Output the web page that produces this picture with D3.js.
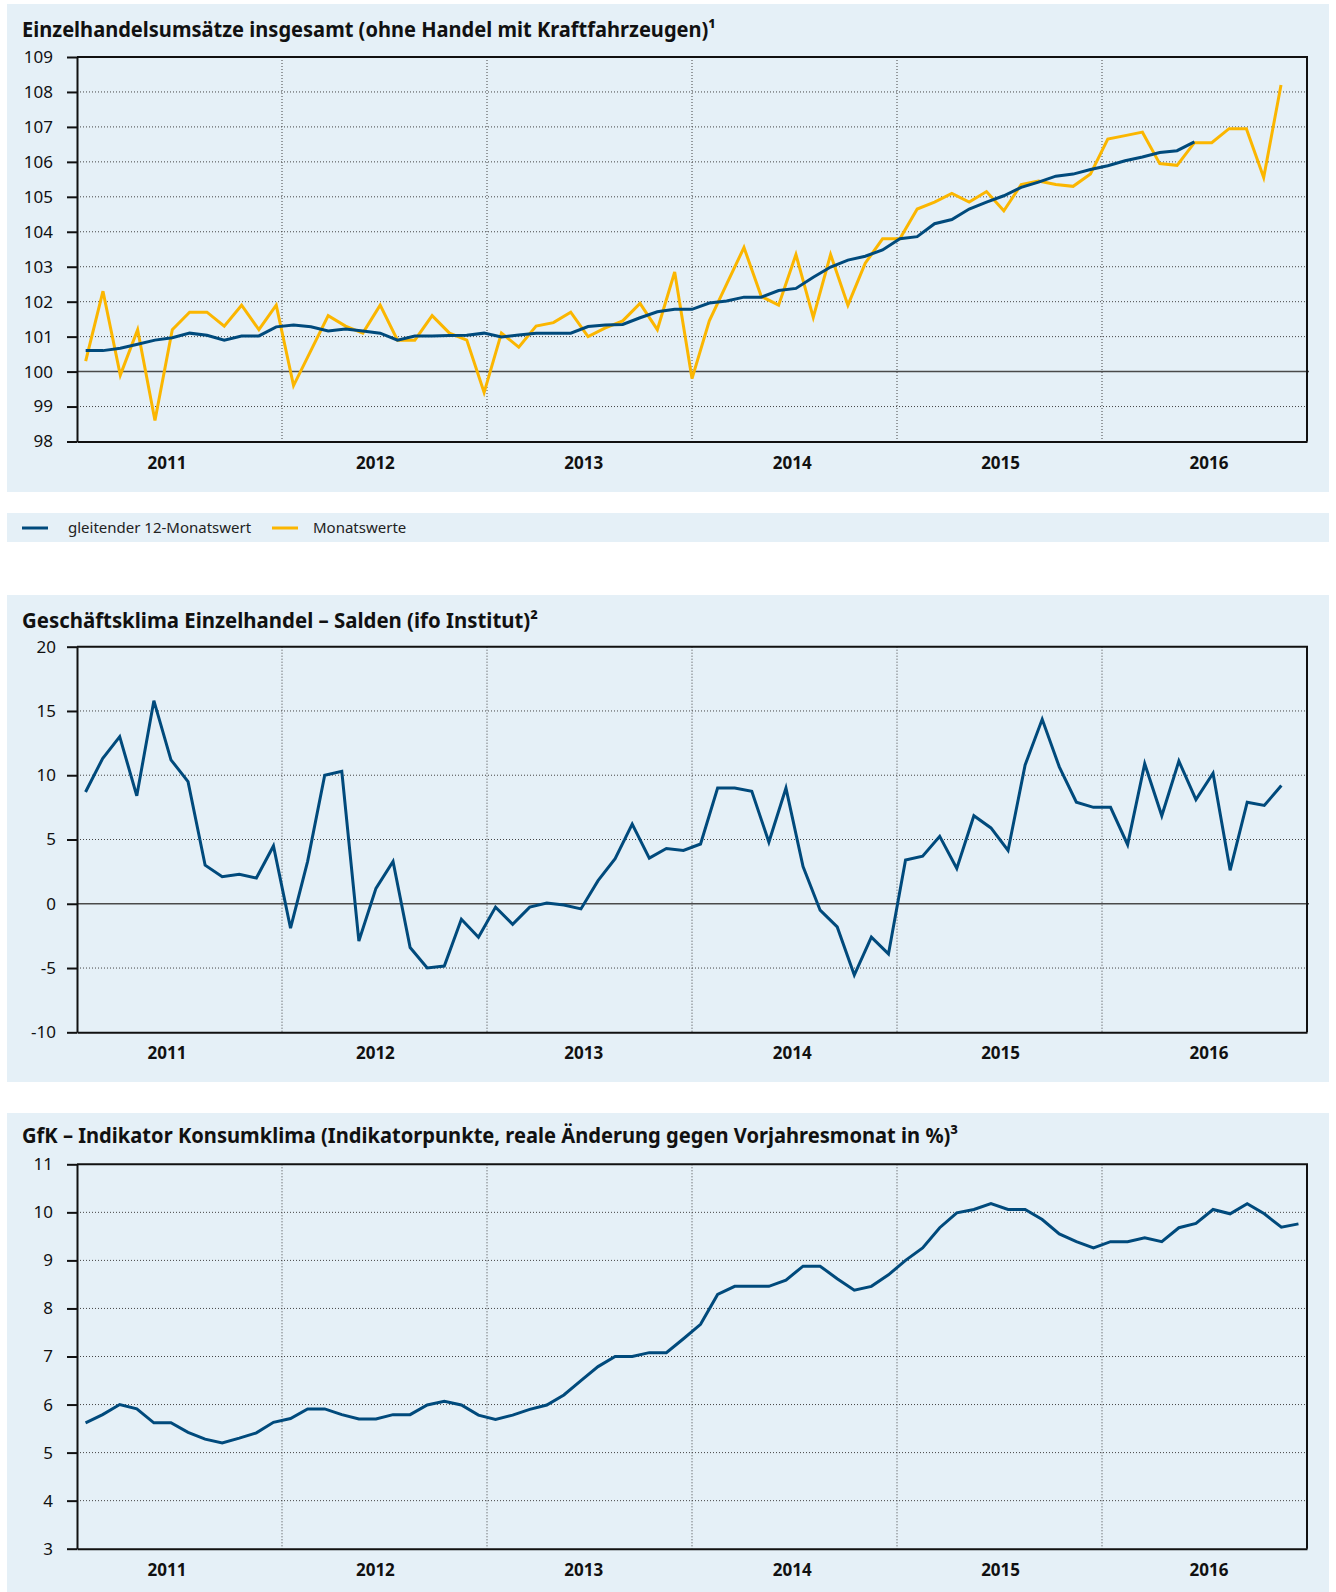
<!DOCTYPE html>
<html>
<head>
<meta charset="utf-8">
<script src="https://cdn.jsdelivr.net/npm/d3@7"></script>
<style>
  body { margin: 0; background: #fff; }
  svg { display: block; font-family: "Noto Sans", sans-serif; }
</style>
</head>
<body>
<div id="chart"></div>
<script>
// month categories Jan 2011 - Dec 2016
const months = d3.range(72).map(i => `${2011 + Math.floor(i / 12)}-${String(i % 12 + 1).padStart(2, "0")}`);
const years = [2011, 2012, 2013, 2014, 2015, 2016];

// Einzelhandelsumsätze (Index), Monatswerte
const retailMonthly = [
  100.3, 102.3, 99.9, 101.2, 98.6, 101.2, 101.7, 101.7, 101.3, 101.9, 101.2, 101.9,
  99.6, 100.6, 101.6, 101.3, 101.1, 101.9, 100.9, 100.9, 101.6, 101.1, 100.9, 99.4,
  101.1, 100.7, 101.3, 101.4, 101.7, 101.0, 101.25, 101.45, 101.95, 101.2, 102.85, 99.8,
  101.45, 102.5, 103.55, 102.15, 101.9, 103.35, 101.55, 103.35, 101.9, 103.1, 103.8, 103.8,
  104.65, 104.85, 105.1, 104.85, 105.15, 104.6, 105.35, 105.45, 105.35, 105.3, 105.65, 106.65,
  106.75, 106.85, 105.95, 105.9, 106.55, 106.55, 106.95, 106.95, 105.55, 108.2
];
// gleitender 12-Monatswert
const retailMovingAvg = [
  100.6, 100.6, 100.67, 100.78, 100.9, 100.97, 101.1, 101.04, 100.9, 101.02, 101.02, 101.28,
  101.33, 101.28, 101.16, 101.22, 101.16, 101.1, 100.9, 101.02, 101.02, 101.03, 101.04, 101.1,
  100.99, 101.05, 101.1, 101.1, 101.1, 101.29, 101.33, 101.35, 101.54, 101.71, 101.78, 101.78,
  101.96, 102.02, 102.13, 102.13, 102.32, 102.38, 102.7, 102.99, 103.19, 103.3, 103.48, 103.8,
  103.86, 104.23, 104.35, 104.65, 104.85, 105.03, 105.27, 105.42, 105.59, 105.65, 105.78, 105.89,
  106.03, 106.14, 106.27, 106.32, 106.57
];
// ifo Geschäftsklima Einzelhandel, Salden
const ifoBalance = [
  8.7, 11.3, 13.0, 8.4, 15.8, 11.2, 9.5, 3.0, 2.1, 2.3, 2.0, 4.5,
  -1.9, 3.3, 10.0, 10.3, -2.9, 1.2, 3.3, -3.4, -5.0, -4.85, -1.2, -2.6,
  -0.26, -1.6, -0.26, 0.05, -0.1, -0.4, 1.8, 3.5, 6.2, 3.55, 4.3, 4.15,
  4.65, 9.0, 9.0, 8.75, 4.8, 9.0, 2.9, -0.5, -1.8, -5.55, -2.6, -3.9,
  3.4, 3.7, 5.25, 2.75, 6.85, 5.9, 4.15, 10.8, 14.35, 10.65, 7.9, 7.5,
  7.5, 4.6, 10.9, 6.85, 11.1, 8.1, 10.15, 2.6, 7.9, 7.65, 9.2
];
// GfK Konsumklima, Indikatorpunkte
const gfkClimate = [
  5.62, 5.79, 6.0, 5.91, 5.62, 5.62, 5.42, 5.28, 5.2, 5.3, 5.41, 5.63,
  5.71, 5.91, 5.91, 5.79, 5.7, 5.7, 5.79, 5.79, 5.99, 6.07, 5.99, 5.78,
  5.69, 5.78, 5.9, 5.99, 6.2, 6.5, 6.79, 7.0, 7.0, 7.08, 7.08, 7.37,
  7.67, 8.29, 8.46, 8.46, 8.46, 8.59, 8.88, 8.88, 8.62, 8.38, 8.46, 8.7,
  9.0, 9.26, 9.68, 9.99, 10.06, 10.18, 10.06, 10.06, 9.85, 9.55, 9.39, 9.26,
  9.39, 9.39, 9.47, 9.39, 9.68, 9.77, 10.06, 9.97, 10.18, 9.97, 9.69, 9.76
];

const W = 1336, H = 1592;
const plotLeft = 77, plotRight = 1307;
const bgColor = "#e5f0f7", blue = "#004a7c", yellow = "#fbb600";

const svg = d3.select("#chart").append("svg")
  .attr("width", W)
  .attr("height", H);

function drawPanel(p) {
  const g = svg.append("g");

  g.append("rect")
    .attr("x", 7).attr("y", p.boxTop)
    .attr("width", 1322).attr("height", p.boxBottom - p.boxTop)
    .attr("fill", bgColor);

  g.append("text")
    .attr("x", 22).attr("y", p.titleY)
    .attr("font-size", 21).attr("font-weight", "bold").attr("fill", "#111")
    .attr("textLength", p.titleWidth).attr("lengthAdjust", "spacingAndGlyphs")
    .text(p.title);

  const y = d3.scaleLinear().domain(p.domain).range([p.bottom, p.top]);
  const x = d3.scalePoint().domain(months.slice(0, p.nCat)).range([plotLeft, plotRight]).padding(0.5);
  // year separators split the plot in six equal parts
  const yr = d3.scaleLinear().domain([2011, 2017]).range([plotLeft, plotRight]);
  // year labels sit on their own slightly wider spacing
  const yrLabel = d3.scaleLinear().domain([2011, 2016]).range([167, 1209]);

  // dotted horizontal grid
  g.append("g").selectAll("line")
    .data(p.ticks.filter(t => t !== p.domain[0] && t !== p.domain[1] && t !== p.zero))
    .enter().append("line")
    .attr("x1", plotLeft).attr("x2", plotRight)
    .attr("y1", d => y(d)).attr("y2", d => y(d))
    .attr("stroke", "#444").attr("stroke-width", 1).attr("stroke-dasharray", "1,2");

  // dotted year separators
  g.append("g").selectAll("line")
    .data(years.slice(1))
    .enter().append("line")
    .attr("x1", d => yr(d)).attr("x2", d => yr(d))
    .attr("y1", p.top).attr("y2", p.bottom)
    .attr("stroke", "#444").attr("stroke-width", 1).attr("stroke-dasharray", "1,2");

  // zero line
  if (p.zero !== undefined) {
    g.append("line")
      .attr("x1", plotLeft).attr("x2", plotRight + 2)
      .attr("y1", y(p.zero)).attr("y2", y(p.zero))
      .attr("stroke", "#4a4a4a").attr("stroke-width", 1.5);
  }

  // series
  p.series.forEach(s => {
    g.append("path")
      .datum(s.values)
      .attr("fill", "none")
      .attr("stroke", s.color)
      .attr("stroke-width", 3)
      .attr("d", d3.line()
        .x((d, i) => x(months[i]))
        .y(d => y(d)));
  });

  // frame top + right
  g.append("path")
    .attr("d", `M${plotLeft},${p.top}H${plotRight}V${p.bottom}`)
    .attr("fill", "none").attr("stroke", "#111").attr("stroke-width", 2);

  // left axis
  const yAxis = g.append("g")
    .attr("transform", `translate(${plotLeft},0)`)
    .call(d3.axisLeft(y).tickValues(p.ticks).tickFormat(d => String(d))
      .tickSize(10).tickSizeOuter(0).tickPadding(p.tickPad));
  yAxis.select(".domain").attr("stroke", "#111").attr("stroke-width", 2);
  yAxis.selectAll(".tick line").attr("stroke", "#111").attr("stroke-width", 2);
  yAxis.selectAll("text").attr("font-size", 17).attr("fill", "#111")
    .attr("font-family", "'Noto Sans', sans-serif");

  // bottom axis line
  const xAxis = g.append("g")
    .attr("transform", `translate(0,${p.bottom})`)
    .call(d3.axisBottom(yr).tickValues([]).tickSizeOuter(0));
  xAxis.select(".domain").attr("stroke", "#111").attr("stroke-width", 2);

  // year labels
  g.append("g").selectAll("text")
    .data(years)
    .enter().append("text")
    .attr("x", d => yrLabel(d))
    .attr("y", p.bottom + 27)
    .attr("text-anchor", "middle")
    .attr("font-size", 17).attr("font-weight", "bold").attr("fill", "#111")
    .text(d => d);
}

drawPanel({
  boxTop: 4, boxBottom: 492,
  title: "Einzelhandelsumsätze insgesamt (ohne Handel mit Kraftfahrzeugen)¹",
  titleY: 37, titleWidth: 694,
  top: 57, bottom: 441.5,
  domain: [98, 109], ticks: d3.range(98, 110), zero: 100, tickPad: 14,
  nCat: 71,
  series: [
    { values: retailMonthly, color: yellow },
    { values: retailMovingAvg, color: blue }
  ]
});

// legend
const legendItems = [
  { label: "gleitender 12-Monatswert", color: blue, lineX: 22, textX: 68 },
  { label: "Monatswerte", color: yellow, lineX: 272, textX: 313 }
];
svg.append("rect")
  .attr("x", 7).attr("y", 513).attr("width", 1322).attr("height", 29)
  .attr("fill", bgColor);
const lg = svg.append("g").selectAll("g").data(legendItems).enter().append("g");
lg.append("line")
  .attr("x1", d => d.lineX).attr("x2", d => d.lineX + 26)
  .attr("y1", 528).attr("y2", 528)
  .attr("stroke", d => d.color).attr("stroke-width", 3);
lg.append("text")
  .attr("x", d => d.textX).attr("y", 533)
  .attr("font-size", 15).attr("fill", "#222")
  .text(d => d.label);

drawPanel({
  boxTop: 595, boxBottom: 1082,
  title: "Geschäftsklima Einzelhandel – Salden (ifo Institut)²",
  titleY: 628, titleWidth: 516,
  top: 646.7, bottom: 1032.3,
  domain: [-10, 20], ticks: [-10, -5, 0, 5, 10, 15, 20], zero: 0, tickPad: 11,
  nCat: 72,
  series: [{ values: ifoBalance, color: blue }]
});

drawPanel({
  boxTop: 1113, boxBottom: 1592,
  title: "GfK – Indikator Konsumklima (Indikatorpunkte, reale Änderung gegen Vorjahresmonat in %)³",
  titleY: 1143, titleWidth: 936,
  top: 1164.3, bottom: 1548.7,
  domain: [3, 11], ticks: d3.range(3, 12), tickPad: 14,
  nCat: 72,
  series: [{ values: gfkClimate, color: blue }]
});
</script>
</body>
</html>
